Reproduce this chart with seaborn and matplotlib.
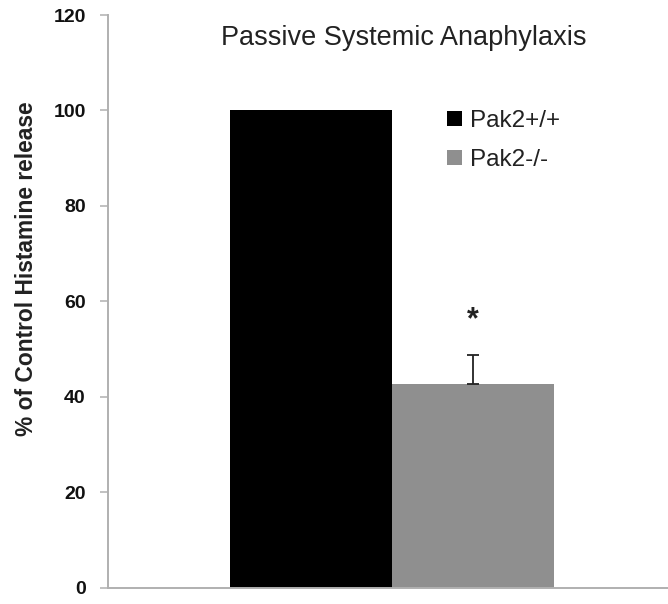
import numpy as np
import pandas as pd
import seaborn as sns
import matplotlib.pyplot as plt

# values
groups = ['Pak2+/+', 'Pak2-/-']
release = [100, 42.7]
err_up = [0, 6]
colors = ['#000000', '#8f8f8f']
star_y = 56

sns.set_style('white')
plt.rcParams['font.family'] = ['Liberation Sans', 'DejaVu Sans']

df = pd.DataFrame({'cond': ['PSA', 'PSA'], 'genotype': groups, 'release': release})

fig = plt.figure(figsize=(6.68, 6.04), dpi=100)
ax = fig.add_axes([108 / 668, 16.5 / 604, 560 / 668, 572.5 / 604])

sns.barplot(data=df, x='cond', y='release', hue='genotype', palette=colors,
            width=0.58, errorbar=None, saturation=1, linewidth=0, ax=ax)

# error bar (upper only) and asterisk on the knockout bar
bars = ax.patches[:len(groups)]
ko = bars[1]
xc = ko.get_x() + ko.get_width() / 2
ax.errorbar([xc], [release[1]], yerr=[[0], [err_up[1]]], fmt='none',
            ecolor='#222222', elinewidth=1.3, capsize=4.3, capthick=1.3)
ax.text(xc, star_y, '*', ha='center', va='center', fontsize=22,
        fontweight='bold', color='#222222')

ax.set_xlim(-0.507, 0.493)
ax.set_ylim(0, 120)
ax.set_yticks(np.arange(0, 121, 20))
ax.set_xticks([])
ax.set_xlabel('')
ax.set_ylabel('% of Control Histamine release', fontsize=16.4, fontweight='bold',
              color='#222222')
ax.yaxis.set_label_coords(-0.125, 0.557)
for lab in ax.get_yticklabels():
    lab.set_fontweight('bold')
ax.tick_params(axis='y', direction='out', length=6, width=1.1, color='#b0b0b0',
               labelsize=14, labelcolor='#111111', pad=10, left=True)

for s in ['top', 'right']:
    ax.spines[s].set_visible(False)
for s in ['left', 'bottom']:
    ax.spines[s].set_color('#b0b0b0')
    ax.spines[s].set_linewidth(1.4)

ax.text(0.529, 0.948, 'Passive Systemic Anaphylaxis', transform=ax.transAxes,
        ha='center', va='baseline', fontsize=19.5, color='#222222')

leg = ax.legend(loc='upper left', bbox_to_anchor=(447 / 668, (604 - 110) / 604),
                bbox_transform=fig.transFigure, frameon=False,
                fontsize=17.5, handlelength=0.62, handleheight=0.62,
                handletextpad=0.33, labelspacing=0.7, borderaxespad=0, borderpad=0)
for t in leg.get_texts():
    t.set_color('#222222')

fig.savefig('out.png', dpi=100)
